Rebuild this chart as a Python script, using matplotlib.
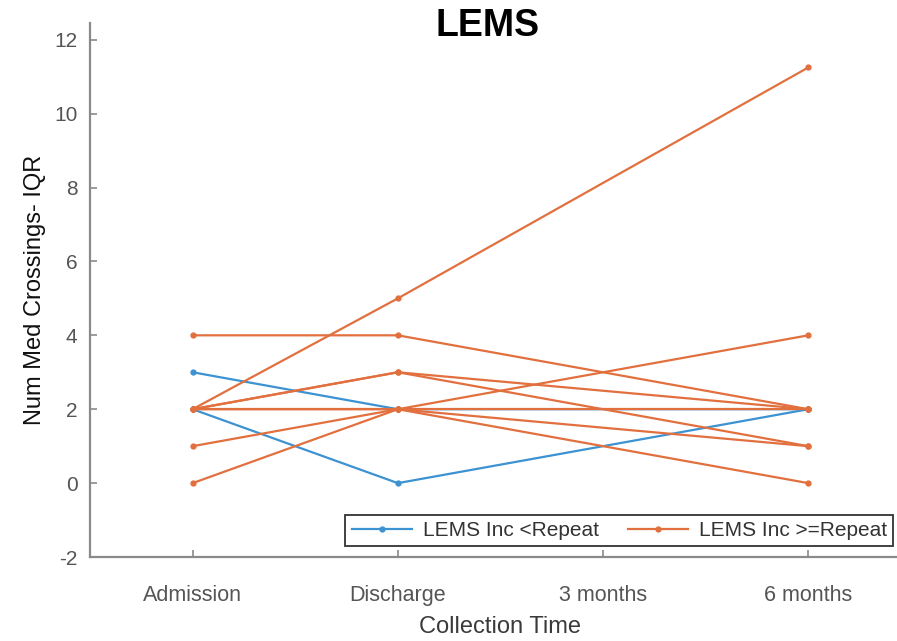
import numpy as np
import matplotlib
matplotlib.use('Agg')
import matplotlib.pyplot as plt

plt.rcParams['font.family'] = ['Liberation Sans', 'DejaVu Sans']
plt.rcParams['axes.unicode_minus'] = False

time_labels = ['Admission', 'Discharge', '3 months', '6 months']
# no 3-month measurements, so each series has values at admission, discharge, 6 months
time_pos = [1, 2, 4]

lems_low = [
    [3, 2, 2],
    [2, 0, 2],
]
lems_high = [
    [4, 4, 2],
    [2, 5, 11.25],
    [2, 3, 2],
    [2, 3, 1],
    [2, 2, 2],
    [2, 2, 1],
    [1, 2, 4],
    [0, 2, 0],
]

blue = '#3d92d2'
orange = '#e2703f'
axis_grey = '#8a8a8a'
tick_grey = '#555555'

fig = plt.figure(figsize=(8.97, 6.41), dpi=100)
ax = fig.add_axes([0.1003, 0.131, 0.9153, 0.833])

for i, vals in enumerate(lems_low):
    ax.plot(time_pos, vals, color=blue, marker='.', markersize=7, linewidth=1.6,
            label='LEMS Inc <Repeat' if i == 0 else None)
for i, vals in enumerate(lems_high):
    ax.plot(time_pos, vals, color=orange, marker='.', markersize=7, linewidth=1.6,
            label='LEMS Inc >=Repeat' if i == 0 else None)

ax.set_xlim(0.5, 4.5)
ax.set_ylim(-2, 12.45)
ax.set_xticks([1, 2, 3, 4])
ax.set_xticklabels(time_labels)
ax.set_yticks(np.arange(-2, 13, 2))

for side in ['top', 'right']:
    ax.spines[side].set_visible(False)
for side in ['left', 'bottom']:
    ax.spines[side].set_color(axis_grey)
    ax.spines[side].set_linewidth(1.6)
ax.tick_params(direction='in', length=5, width=1.2, color=axis_grey,
               labelcolor=tick_grey, labelsize=15, pad=9)
ax.tick_params(axis='x', pad=20, labelsize=15.5)

ax.set_xlabel('Collection Time', fontsize=17, color='#3a3a3a', labelpad=7)
ax.set_ylabel('Num Med Crossings- IQR', fontsize=17, color='#111111', labelpad=6)
fig.text(0.544, 0.96, 'LEMS', fontsize=27, fontweight='bold', ha='center', va='center')

leg = ax.legend(loc='lower right', bbox_to_anchor=(0.978, 0.02), borderaxespad=0,
                ncol=2, fontsize=15, fancybox=False, framealpha=1, handlelength=2.9,
                columnspacing=1.4, handletextpad=0.5, borderpad=0.3)
leg.get_frame().set_edgecolor('#333333')
leg.get_frame().set_linewidth(1.3)
for t in leg.get_texts():
    t.set_color('#333333')

fig.savefig('out.png', dpi=100)
